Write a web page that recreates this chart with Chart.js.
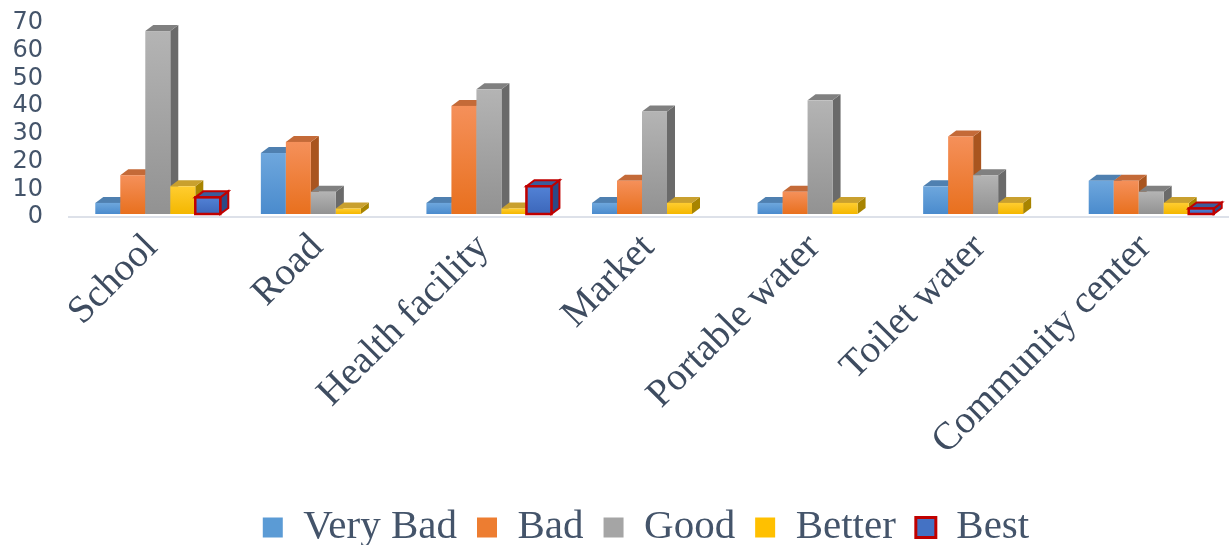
<!DOCTYPE html>
<html>
<head>
<meta charset="utf-8">
<script src="https://cdn.jsdelivr.net/npm/chart.js@4.4.0/dist/chart.umd.min.js"></script>
<style>
  html, body { margin: 0; padding: 0; background: #ffffff; }
</style>
</head>
<body>
<canvas id="myChart" width="1232" height="545"></canvas>
<script>
// categories and the five rating series
const labels = ['School', 'Road', 'Health facility', 'Market', 'Portable water', 'Toilet water', 'Community center'];
const seriesNames = ['Very Bad', 'Bad', 'Good', 'Better', 'Best'];
const veryBad = [4, 22, 4, 4, 4, 10, 12];
const bad = [14, 26, 39, 12, 8, 28, 12];
const good = [66, 8, 45, 37, 41, 14, 8];
const better = [10, 2, 2, 4, 4, 4, 4];
const best = [6, 0, 10, 0, 0, 0, 2];
const yMin = 0;
const yMax = 70;
const yStep = 10;

// face colours for the fake 3D columns: front (top->bottom), top face, side face
const frontLight = ['#6ea7dd', '#f5905a', '#b4b4b4', '#ffcd30', '#5282d6'];
const frontDark  = ['#4a8bcd', '#e8701e', '#929292', '#f4b700', '#3c67ba'];
const topFace    = ['#4f80b0', '#c46a38', '#808080', '#c9a02e', '#3b5c9c'];
const sideFace   = ['#3d6e9e', '#a9551f', '#6a6a6a', '#a88400', '#2c4a86'];
const legendFill = ['#5b9bd5', '#ed7d31', '#a5a5a5', '#ffc000', '#4472c4'];

const DX = 8;       // depth offset to the right
const DY = 6;       // depth offset upwards
const SHIFT_X = 6;
const SHIFT_Y = -3;
const LEGEND_SHIFT = 32;  // reference legend sits a bit right of centre

const textColor = '#44546a';

const bars3d = {
    id: 'bars3d',
    afterLayout(chart) {
        chart.legend.left += LEGEND_SHIFT;
        chart.legend.right += LEGEND_SHIFT;
    },
    beforeDatasetsDraw(chart) {
        const ctx = chart.ctx;
        const sets = chart.data.datasets;
        ctx.save();
        for (let j = 0; j < labels.length; j++) {
            for (let i = 0; i < sets.length; i++) {
                const v = sets[i].data[j];
                if (!v) continue;
                const el = chart.getDatasetMeta(i).data[j];
                const w = el.width;
                const x0 = el.x - w / 2 + SHIFT_X;
                const x1 = x0 + w;
                const yt = el.y + SHIFT_Y;
                const yb = el.base + SHIFT_Y;
                const outline = i === 4;

                // side face
                ctx.beginPath();
                ctx.moveTo(x1, yb);
                ctx.lineTo(x1 + DX, yb - DY);
                ctx.lineTo(x1 + DX, yt - DY);
                ctx.lineTo(x1, yt);
                ctx.closePath();
                ctx.fillStyle = sideFace[i];
                ctx.fill();
                if (outline) { ctx.strokeStyle = '#c00000'; ctx.lineWidth = 2; ctx.stroke(); }

                // top face
                ctx.beginPath();
                ctx.moveTo(x0, yt);
                ctx.lineTo(x0 + DX, yt - DY);
                ctx.lineTo(x1 + DX, yt - DY);
                ctx.lineTo(x1, yt);
                ctx.closePath();
                ctx.fillStyle = topFace[i];
                ctx.fill();
                if (outline) { ctx.strokeStyle = '#c00000'; ctx.lineWidth = 2; ctx.stroke(); }

                // front face
                const g = ctx.createLinearGradient(0, yt, 0, yb);
                g.addColorStop(0, frontLight[i]);
                g.addColorStop(1, frontDark[i]);
                ctx.fillStyle = g;
                ctx.fillRect(x0, yt, w, yb - yt);
                if (outline) {
                    ctx.strokeStyle = '#c00000';
                    ctx.lineWidth = 2.5;
                    ctx.strokeRect(x0, yt, w, yb - yt);
                }
            }
        }
        ctx.restore();
        return false;
    }
};

const seriesData = [veryBad, bad, good, better, best];

const data = {
    labels: labels,
    datasets: seriesNames.map((name, i) => ({
        label: name,
        data: seriesData[i],
        backgroundColor: legendFill[i],
        borderColor: i === 4 ? '#c00000' : legendFill[i],
        borderWidth: i === 4 ? 3 : 0,
        categoryPercentage: 0.755,
        barPercentage: 1.0,
    }))
};

const config = {
    type: 'bar',
    data: data,
    options: {
        responsive: false,
        animation: false,
        devicePixelRatio: 1,
        layout: { padding: { top: 23, right: 4, left: 0, bottom: -13 } },
        scales: {
            x: {
                grid: { display: false, drawTicks: false },
                border: { display: true, color: '#dde1e9', width: 2 },
                ticks: {
                    color: '#3e4c60',
                    font: { family: '"Liberation Serif", "Times New Roman", serif', size: 39 },
                    minRotation: 45,
                    maxRotation: 45,
                    autoSkip: false,
                    padding: 8,
                },
                afterFit(scale) { scale.height = 270; },
            },
            y: {
                min: yMin,
                max: yMax,
                // invisible tick length keeps the labels away from the plot
                grid: { display: false, drawTicks: true, tickLength: 26 },
                border: { display: false },
                ticks: {
                    stepSize: yStep,
                    autoSkip: false,
                    color: textColor,
                    padding: 0,
                    font: { family: '"DejaVu Sans", sans-serif', size: 24 },
                },
                afterFit(scale) { scale.width = 69; },
            },
        },
        plugins: {
            legend: {
                position: 'bottom',
                labels: {
                    color: textColor,
                    font: { family: '"Liberation Serif", "Times New Roman", serif', size: 41 },
                    boxWidth: 20,
                    boxHeight: 20,
                    padding: 20,
                },
            },
            tooltip: { enabled: false },
        },
    },
    plugins: [bars3d],
};

const myChart = new Chart(document.getElementById('myChart'), config);
</script>
</body>
</html>
